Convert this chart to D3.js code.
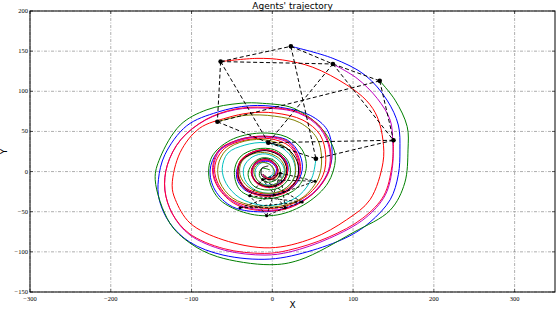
<!DOCTYPE html>
<html><head><meta charset="utf-8">
<script src="https://cdn.jsdelivr.net/npm/d3@7"></script>
<style>body{margin:0;background:#fff}svg{display:block}</style>
</head><body><svg id="c" width="556" height="310"></svg>
<script>
const xTicks=[-300,-200,-100,0,100,200,300];
const yTicks=[-150,-100,-50,0,50,100,150,200];
const agentNames=["A","C","D","H","B","E","G","F"];
const agentColors=["#0000ff","#008000","#ff0000","#00bfbf","#bf00bf","#808000","#000000","#ff0033"];
const trajA=[[23,156],[75,141],[115,120],[142,89],[156,58],[158,27],[156,-4],[146,-35],[121,-63],[96,-80],[50,-98],[-3,-109],[-61,-104],[-102,-88],[-127,-64],[-140,-35],[-141,-10],[-133,21],[-106,57],[-68,74],[-28,82],[10,80],[47,70],[68,52],[74,27],[71,4],[55,-23],[26,-42],[-7,-50],[-49,-44],[-71,-23],[-77,2],[-68,24],[-44,39],[-12,44],[19,39],[34,21],[37,2],[28,-17],[10,-27],[-13,-29],[-34,-23],[-44,-8],[-42,8],[-31,21],[-13,27],[7,23],[18,12],[19,-1],[12,-12],[-3,-17],[-18,-14],[-25,-5],[-24,6],[-14,12],[-3,12],[5,4],[3,-4],[-5,-8],[-12,-3]];
const trajC=[[133,113],[152,89],[167,56],[168,27],[164,-14],[146,-48],[100,-76],[34,-110],[-3,-116],[-68,-106],[-102,-89],[-127,-64],[-145,-10],[-139,17],[-114,58],[-81,77],[-40,85],[-12,85],[26,79],[59,56],[75,31],[78,14],[69,-14],[43,-39],[6,-54],[-31,-52],[-65,-35],[-78,-10],[-75,18],[-52,39],[-15,48],[18,43],[37,27],[42,4],[31,-20],[7,-32],[-18,-33],[-40,-23],[-47,-1],[-40,18],[-20,28],[3,27],[19,14],[22,-4],[12,-18],[-5,-23],[-23,-18],[-30,-4],[-25,9],[-13,17],[2,14],[10,2],[5,-10],[-8,-13],[-16,-5],[-13,4],[-3,2]];
const trajD=[[-64,137],[-19,141],[13,139],[50,130],[92,108],[117,88],[130,68],[137,39],[137,11],[121,-35],[92,-60],[50,-83],[-3,-95],[-61,-85],[-102,-64],[-120,-35],[-124,-17],[-114,24],[-90,54],[-56,67],[-28,73],[3,73],[38,64],[59,46],[66,21],[63,-4],[44,-29],[13,-44],[-18,-45],[-50,-35],[-68,-13],[-71,8],[-59,29],[-34,39],[-3,41],[22,31],[32,12],[31,-8],[16,-23],[-9,-28],[-33,-20],[-42,-4],[-40,13],[-25,24],[-5,27],[12,19],[19,4],[15,-10],[0,-18],[-18,-14],[-25,-2],[-19,11],[-5,14],[6,6],[5,-7],[-5,-10],[-12,-3]];
const trajH=[[54,16],[49,-8],[34,-29],[12,-40],[-13,-42],[-40,-33],[-57,-15],[-62,4],[-55,23],[-34,33],[-9,36],[13,29],[26,14],[28,-4],[19,-19],[0,-27],[-21,-23],[-34,-10],[-35,6],[-25,18],[-8,22],[8,14],[15,1],[8,-13],[-7,-17],[-19,-10],[-21,2],[-13,11],[-2,8],[2,-2],[-5,-7]];
const trajB=[[75,134],[105,116],[130,91],[146,64],[149,39],[149,8],[140,-29],[115,-58],[71,-83],[22,-100],[-9,-104],[-59,-98],[-102,-79],[-123,-54],[-133,-23],[-130,8],[-114,39],[-83,64],[-46,77],[-9,79],[32,73],[59,54],[71,27],[69,0],[50,-27],[22,-44],[-9,-48],[-44,-40],[-66,-20],[-73,2],[-65,26],[-40,39],[-9,43],[19,36],[32,17],[33,-4],[19,-23],[-5,-30],[-30,-23],[-42,-7],[-39,12],[-25,23],[-5,26],[12,18],[18,2],[12,-13],[-5,-19],[-20,-13],[-25,1],[-18,12],[-3,13],[6,2],[-2,-9],[-12,-5]];
const trajE=[[-68,62],[-34,70],[3,69],[34,61],[55,42],[61,17],[57,-8],[38,-32],[10,-43],[-21,-43],[-49,-33],[-65,-13],[-67,8],[-57,27],[-34,38],[-5,39],[18,29],[28,11],[27,-8],[13,-23],[-9,-27],[-30,-19],[-40,-4],[-38,12],[-24,22],[-5,23],[11,14],[16,-1],[8,-13],[-7,-18],[-19,-10],[-23,2],[-15,11],[-3,9],[3,-1],[-3,-9],[-10,-4]];
const trajG=[[-5,36],[18,29],[31,12],[31,-8],[18,-24],[-5,-30],[-30,-24],[-42,-8],[-40,11],[-26,22],[-7,26],[11,18],[18,2],[12,-13],[-4,-19],[-19,-14],[-26,-1],[-20,12],[-7,16],[5,8],[6,-4],[-3,-10],[-13,-5],[-13,4],[-5,7]];
const trajF=[[150,39],[148,6],[138,-30],[112,-58],[69,-82],[20,-98],[-10,-102],[-60,-96],[-103,-77],[-124,-52],[-133,-23],[-130,8],[-113,40],[-82,65],[-45,78],[-8,80],[32,74],[60,55],[72,27],[70,0],[51,-27],[22,-45],[-9,-49],[-45,-41],[-67,-20],[-74,2],[-66,27],[-40,40],[-9,44],[20,37],[33,17],[34,-4],[20,-24],[-5,-31],[-31,-24],[-43,-7],[-40,12],[-25,24],[-5,27],[13,18],[19,2],[13,-14],[-5,-20],[-21,-13],[-26,1],[-18,13],[-3,14],[7,2],[-1,-9],[-11,-6]];
const trajectories=[trajA,trajC,trajD,trajH,trajB,trajE,trajG,trajF];
const edges0=[["D","A"],["A","B"],["D","B"],["B","C"],["D","E"],["D","G"],["A","H"],["B","G"],["B","F"],["C","F"],["C","E"],["E","G"],["F","G"],["F","H"],["G","H"]];
// later snapshot of the agents (positions)
const snapNames=["A","C","D","H","B","E","G","F"];
const snapX=[-40,-7,37,53,16,-28,-12,10];
const snapY=[-45,-55,-38,-12,-45,-30,-10,-2];
const edges1=[["D","A"],["A","B"],["D","B"],["B","C"],["D","E"],["D","G"],["A","H"],["B","G"],["B","F"],["C","F"],["C","E"],["E","G"],["F","G"],["F","H"],["G","H"]];

const svg=d3.select("#c");
const L=30,R=555,T=11,B=292;
const x=d3.scaleLinear().domain([-300,350]).range([L,R]);
const y=d3.scaleLinear().domain([-150,200]).range([B,T]);
const g=svg.append("g");
g.selectAll(".gx").data(xTicks).join("line").attr("x1",d=>x(d)).attr("x2",d=>x(d)).attr("y1",T).attr("y2",B)
 .attr("stroke","#777").attr("stroke-width",0.6).attr("stroke-dasharray","3,1.5,1,1.5");
g.selectAll(".gy").data(yTicks).join("line").attr("y1",d=>y(d)).attr("y2",d=>y(d)).attr("x1",L).attr("x2",R)
 .attr("stroke","#777").attr("stroke-width",0.6).attr("stroke-dasharray","3,1.5,1,1.5");
const line=d3.line().x(d=>x(d[0])).y(d=>y(d[1])).curve(d3.curveCatmullRom.alpha(0.5));
svg.append("g").selectAll("path").data(trajectories).join("path").attr("d",line)
 .attr("fill","none").attr("stroke",(d,i)=>agentColors[i]).attr("stroke-width",1);
const startOf=n=>trajectories[agentNames.indexOf(n)][0];
svg.append("g").selectAll("line").data(edges0).join("line")
 .attr("x1",d=>x(startOf(d[0])[0])).attr("y1",d=>y(startOf(d[0])[1]))
 .attr("x2",d=>x(startOf(d[1])[0])).attr("y2",d=>y(startOf(d[1])[1]))
 .attr("stroke","#000").attr("stroke-width",1).attr("stroke-dasharray","4,2.5");
svg.append("g").selectAll("circle").data(trajectories).join("circle")
 .attr("cx",d=>x(d[0][0])).attr("cy",d=>y(d[0][1])).attr("r",2.3).attr("fill","#000");
const si=n=>snapNames.indexOf(n);
svg.append("g").selectAll("line").data(edges1).join("line")
 .attr("x1",d=>x(snapX[si(d[0])])).attr("y1",d=>y(snapY[si(d[0])]))
 .attr("x2",d=>x(snapX[si(d[1])])).attr("y2",d=>y(snapY[si(d[1])]))
 .attr("stroke","#000").attr("stroke-width",0.9).attr("stroke-dasharray","3,2");
svg.append("g").selectAll("circle").data(snapX).join("circle")
 .attr("cx",d=>x(d)).attr("cy",(d,i)=>y(snapY[i])).attr("r",1.5).attr("fill","#000");
svg.append("rect").attr("x",L).attr("y",T).attr("width",R-L).attr("height",B-T).attr("fill","none").attr("stroke","#000").attr("stroke-width",1);
const tk=svg.append("g");
xTicks.forEach(v=>{tk.append("line").attr("x1",x(v)).attr("x2",x(v)).attr("y1",B).attr("y2",B-3).attr("stroke","#000").attr("stroke-width",0.6);
 tk.append("line").attr("x1",x(v)).attr("x2",x(v)).attr("y1",T).attr("y2",T+3).attr("stroke","#000").attr("stroke-width",0.6);});
yTicks.forEach(v=>{tk.append("line").attr("x1",L).attr("x2",L+3).attr("y1",y(v)).attr("y2",y(v)).attr("stroke","#000").attr("stroke-width",0.6);
 tk.append("line").attr("x1",R).attr("x2",R-3).attr("y1",y(v)).attr("y2",y(v)).attr("stroke","#000").attr("stroke-width",0.6);});
const fmt=v=>v<0?"\u2212"+Math.abs(v):String(v);
svg.append("g").selectAll("text").data(xTicks).join("text").attr("x",d=>x(d)).attr("y",B+8.5)
 .attr("text-anchor","middle").attr("font-family","Liberation Serif, DejaVu Serif, serif").attr("font-size",6.5).text(fmt);
svg.append("g").selectAll("text").data(yTicks).join("text").attr("x",L-2).attr("y",d=>y(d)+2)
 .attr("text-anchor","end").attr("font-family","Liberation Serif, DejaVu Serif, serif").attr("font-size",6.5).text(fmt);
svg.append("text").attr("x",(L+R)/2).attr("y",9).attr("text-anchor","middle").attr("font-family","DejaVu Sans, sans-serif").attr("font-size",9).text("Agents' trajectory");
svg.append("text").attr("x",(L+R)/2).attr("y",308).attr("text-anchor","middle").attr("font-family","DejaVu Sans, sans-serif").attr("font-size",9).text("X");
svg.append("text").attr("transform",`translate(7,${(T+B)/2}) rotate(-90)`).attr("text-anchor","middle").attr("font-family","DejaVu Sans, sans-serif").attr("font-size",9).text("Y");
</script></body></html>
